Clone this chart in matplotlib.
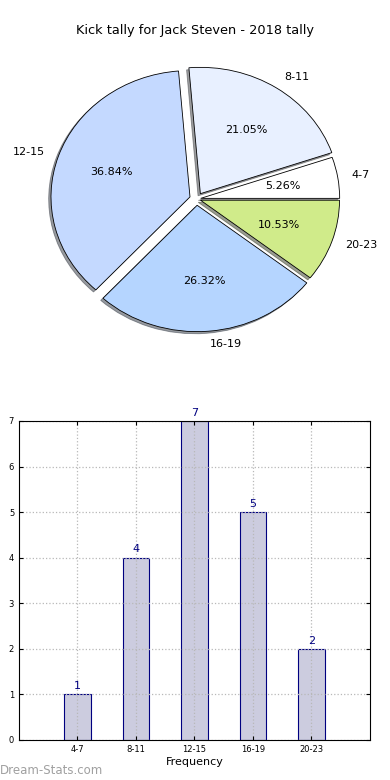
import numpy as np
import matplotlib
matplotlib.use('Agg')
import matplotlib.pyplot as plt

# ─── DATOS ───────────────────────────────────────────────────
intervalos = ['4-7', '8-11', '12-15', '16-19', '20-23']
frecuencias = [1, 4, 7, 5, 2]
colores_pie = ['#ffffff', '#e8f0ff', '#c4d9ff', '#b5d5ff', '#d0eb8a']
explode = [0.03, 0.05, 0.05, 0.05, 0.03]
titulo = 'Kick tally for Jack Steven - 2018 tally'

plt.rcParams['font.family'] = 'DejaVu Sans'

fig = plt.figure(figsize=(3.9, 7.8), dpi=100)

# ── Pie ──────────────────────────────────────────────────────
ax1 = fig.add_axes([0.0585, 0.5424, 0.891, 0.405])
wedges, texts, autotexts = ax1.pie(
    frecuencias, labels=intervalos, colors=colores_pie, explode=explode,
    autopct='%.2f%%', shadow={'ox': -0.012, 'oy': -0.012, 'shade': 0.75},
    startangle=0,
    wedgeprops={'edgecolor': 'black', 'linewidth': 0.6},
    textprops={'fontsize': 8})
ax1.set_aspect('auto')
ax1.set_xlim(-1.25, 1.25)
ax1.set_ylim(-1.25, 1.25)
fig.text(0.5, 0.961, titulo, ha='center', va='center', fontsize=9.3)

# ── Barras ───────────────────────────────────────────────────
ax2 = fig.add_axes([0.0487, 0.0513, 0.9, 0.409])
x = np.arange(1, len(intervalos) + 1)
ax2.bar(x, frecuencias, width=0.45, color='#ccccdf', edgecolor='#000080',
        linewidth=0.8, zorder=2)
for xi, v in zip(x, frecuencias):
    ax2.text(xi, v + 0.07, str(v), ha='center', va='bottom',
             fontsize=8, color='#000080')
ax2.set_xlim(0, 6)
ax2.set_ylim(0, 7)
ax2.set_xticks(x)
ax2.set_xticklabels(intervalos)
ax2.tick_params(labelsize=6, length=3, direction='in',
                top=True, right=True)
ax2.grid(True, linestyle=':', color='#b8b8b8', linewidth=0.9, zorder=3)
ax2.set_axisbelow(False)
for s in ax2.spines.values():
    s.set_zorder(4)
ax2.set_xlabel('Frequency', fontsize=8, labelpad=2)
ax2.set_ylabel('Stat Intervals', fontsize=8, labelpad=4)

fig.text(0.0, 0.004, 'Dream-Stats.com', fontsize=8.5, color='#a0a0a0',
         ha='left', va='bottom')

plt.savefig('out.png', dpi=100)
